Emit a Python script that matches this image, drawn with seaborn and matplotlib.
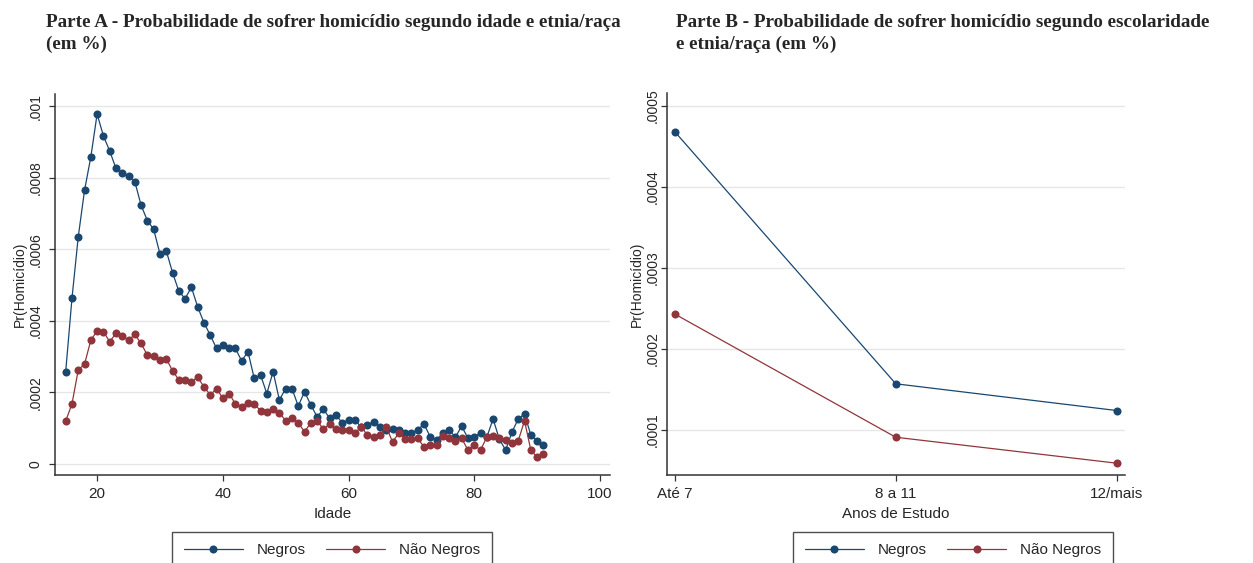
import matplotlib
matplotlib.use("Agg")
import matplotlib.pyplot as plt
import seaborn as sns
import pandas as pd
import numpy as np

# Parte A - probability by age
idade = list(range(15, 92))
negros_idade = [
    .000258, .000463, .000635, .000765, .000858, .000978, .000917, .000875, .000826, .000814,
    .000804, .000789, .000723, .000680, .000656, .000587, .000596, .000535, .000483, .000462,
    .000494, .000439, .000395, .000360, .000323, .000332, .000323, .000323, .000288, .000314,
    .000239, .000249, .000197, .000258, .000179, .000211, .000211, .000162, .000202, .000165,
    .000132, .000153, .000128, .000137, .000115, .000123, .000123, .000104, .000109, .000118,
    .000104, .000095, .000097, .000095, .000086, .000086, .000095, .000112, .000076, .000067,
    .000086, .000095, .000075, .000106, .000072, .000075, .000088, .000075, .000126, .000069,
    .000039, .000089, .000126, .000140, .000081, .000065, .000053]
nao_negros_idade = [
    .000120, .000168, .000263, .000279, .000346, .000372, .000370, .000342, .000365, .000358,
    .000346, .000362, .000337, .000304, .000302, .000292, .000294, .000261, .000235, .000235,
    .000230, .000242, .000216, .000193, .000211, .000184, .000197, .000168, .000158, .000170,
    .000168, .000149, .000146, .000153, .000143, .000121, .000128, .000115, .000090, .000115,
    .000121, .000097, .000112, .000097, .000095, .000095, .000086, .000104, .000081, .000075,
    .000081, .000104, .000062, .000086, .000069, .000069, .000072, .000048, .000053, .000053,
    .000078, .000072, .000065, .000072, .000039, .000053, .000039, .000075, .000078, .000072,
    .000067, .000058, .000065, .000121, .000039, .000019, .000028]

# Parte B - probability by schooling
anos_estudo = ["Até 7", "8 a 11", "12/mais"]
negros_escol = [.000468, .000157, .000124]
nao_negros_escol = [.000243, .000091, .000059]

grupos = ["Negros", "Não Negros"]
cores = ["#1a476f", "#90353b"]

yticks_a = [0, .0002, .0004, .0006, .0008, .001]
ylabels_a = ["0", ".0002", ".0004", ".0006", ".0008", ".001"]
xticks_a = [20, 40, 60, 80, 100]
yticks_b = [.0001, .0002, .0003, .0004, .0005]
ylabels_b = [".0001", ".0002", ".0003", ".0004", ".0005"]

df_a = pd.DataFrame({
    "Idade": idade * 2,
    "pr": negros_idade + nao_negros_idade,
    "grupo": [grupos[0]] * len(idade) + [grupos[1]] * len(idade),
})
df_b = pd.DataFrame({
    "Anos": anos_estudo * 2,
    "pr": negros_escol + nao_negros_escol,
    "grupo": [grupos[0]] * 3 + [grupos[1]] * 3,
})

sns.set_style("white")
plt.rcParams["font.family"] = ["Liberation Sans", "DejaVu Sans"]

W, H = 1253, 563
fig = plt.figure(figsize=(W / 100, H / 100), dpi=100)
ax1 = fig.add_axes([55 / W, 1 - 475 / H, 555 / W, 381 / H])
ax2 = fig.add_axes([667 / W, 1 - 475 / H, 458 / W, 382 / H])

pal = dict(zip(grupos, cores))
line_kw = dict(marker="o", markersize=5.8, markeredgewidth=0, linewidth=0.9)
sns.lineplot(data=df_a, x="Idade", y="pr", hue="grupo", palette=pal, ax=ax1, **line_kw)
sns.lineplot(data=df_b, x="Anos", y="pr", hue="grupo", palette=pal, ax=ax2, **line_kw)

handles, labels = ax1.get_legend_handles_labels()
for ax in (ax1, ax2):
    ax.get_legend().remove()
    for s in ["top", "right"]:
        ax.spines[s].set_visible(False)
    for s in ["left", "bottom"]:
        ax.spines[s].set_color("#333333")
        ax.spines[s].set_linewidth(1.1)
    ax.tick_params(axis="both", direction="out", length=4, width=0.9, color="#333333",
                   left=True, bottom=True)
    ax.tick_params(axis="x", labelsize=11, pad=5)
    ax.grid(axis="y", color="#e6e6e6", linewidth=1)
    ax.grid(axis="x", visible=False)
    ax.set_ylabel("Pr(Homicídio)", fontsize=10)

ax1.set_xlim(13.3, 101.6)
ax1.set_ylim(-0.0000307, 0.001034)
ax1.set_xticks(xticks_a)
ax1.set_yticks(yticks_a)
ax1.set_yticklabels(ylabels_a, rotation=90, va="center")
ax1.tick_params(axis="y", labelsize=10, pad=5)
ax1.set_xlabel("Idade", fontsize=11, labelpad=4)
ax1.yaxis.set_label_coords(-0.050, 0.5)

ax2.set_xlim(-0.036, 2.038)
ax2.set_ylim(0.0000444, 0.000516)
ax2.set_yticks(yticks_b)
ax2.set_yticklabels(ylabels_b, rotation=90, va="center")
ax2.tick_params(axis="y", labelsize=10, pad=1.5)
ax2.set_xlabel("Anos de Estudo", fontsize=11, labelpad=4)
ax2.yaxis.set_label_coords(-0.050, 0.5)

titulo_kw = dict(fontsize=13.8, fontweight="bold", family=["Liberation Serif", "DejaVu Serif"],
                 va="top", ha="left", linespacing=1.35)
fig.text(46 / W, 1 - 14 / H,
         "Parte A - Probabilidade de sofrer homicídio segundo idade e etnia/raça\n(em %)",
         **titulo_kw)
fig.text(676 / W, 1 - 14 / H,
         "Parte B - Probabilidade de sofrer homicídio segundo escolaridade\ne etnia/raça (em %)",
         **titulo_kw)

leg_kw = dict(ncol=2, loc="upper center", fontsize=11, frameon=True, fancybox=False,
              edgecolor="#222222", handlelength=3.9, columnspacing=1.3, handletextpad=0.9,
              borderpad=0.75, borderaxespad=0, bbox_transform=fig.transFigure)
for cx in (332, 953):
    leg = fig.legend(handles, labels, bbox_to_anchor=(cx / W, 1 - 532 / H), **leg_kw)
    leg.get_frame().set_linewidth(1.0)

fig.savefig("out.png", dpi=100)
